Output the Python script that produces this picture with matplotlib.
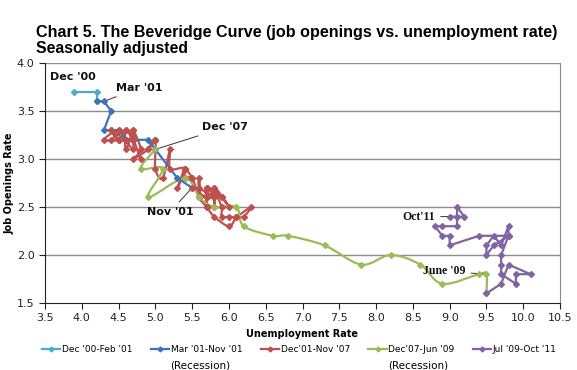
import numpy as np
import matplotlib
matplotlib.use("Agg")
import matplotlib.pyplot as plt
from matplotlib.path import Path
from matplotlib.patches import PathPatch
from matplotlib.lines import Line2D

# ---------------- data ----------------
labels = ["Dec '00-Feb '01", "Mar '01-Nov '01", "Dec'01-Nov '07", "Dec'07-Jun '09", "Jul '09-Oct '11"]
colors = ["#4BACC6", "#3E72B8", "#C0504D", "#9BBB59", "#8064A2"]

cyan_u = [3.9, 4.2, 4.2]
cyan_jo = [3.7, 3.7, 3.6]

blue_u = [4.2, 4.3, 4.4, 4.3, 4.5, 4.6, 4.9, 5.0, 5.3, 5.5]
blue_jo = [3.6, 3.6, 3.5, 3.3, 3.3, 3.2, 3.2, 3.1, 2.8, 2.7]

red_u = [5.5, 5.7,
         5.7, 5.7, 5.7, 5.9, 5.8, 5.8, 5.8, 5.7, 5.7, 5.7, 5.9, 6.0,
         5.8, 5.9, 5.9, 6.0, 6.1, 6.3, 6.2, 6.1, 6.1, 6.0, 5.8, 5.7,
         5.7, 5.6, 5.8, 5.6, 5.6, 5.6, 5.5, 5.4, 5.4, 5.5, 5.4, 5.4,
         5.3, 5.4, 5.2, 5.2, 5.1, 5.0, 5.0, 4.9, 5.0, 5.0, 5.0, 4.9,
         4.7, 4.8, 4.7, 4.7, 4.6, 4.6, 4.7, 4.7, 4.5, 4.4, 4.5, 4.4,
         4.6, 4.5, 4.3, 4.5, 4.4, 4.6, 4.7, 4.6, 4.7, 4.7, 4.8]
red_jo = [2.7, 2.6,
          2.7, 2.5, 2.7, 2.6, 2.7, 2.5, 2.6, 2.7, 2.6, 2.6, 2.6, 2.5,
          2.7, 2.5, 2.4, 2.4, 2.4, 2.5, 2.4, 2.4, 2.4, 2.3, 2.4, 2.5,
          2.5, 2.6, 2.6, 2.7, 2.8, 2.6, 2.8, 2.8, 2.9, 2.8, 2.8, 2.9,
          2.7, 2.9, 2.9, 3.1, 2.8, 2.9, 3.2, 3.1, 3.2, 3.2, 3.2, 3.1,
          3.0, 3.1, 3.3, 3.2, 3.3, 3.1, 3.3, 3.2, 3.2, 3.3, 3.2, 3.3,
          3.2, 3.3, 3.2, 3.2, 3.2, 3.3, 3.2, 3.2, 3.1, 3.2, 3.0]

green_u = [5.0, 4.8, 5.1, 4.9, 5.4, 5.6, 5.8, 6.1, 6.2, 6.6, 6.8, 7.3, 7.8, 8.2, 8.6, 8.9, 9.4, 9.5, 9.5]
green_jo = [3.1, 2.9, 2.9, 2.6, 2.8, 2.6, 2.5, 2.5, 2.3, 2.2, 2.2, 2.1, 1.9, 2.0, 1.9, 1.7, 1.8, 1.8, 1.6]

purple_u = [9.5, 9.7, 9.8, 10.1, 9.9, 9.9, 9.7, 9.7, 9.7, 9.8, 9.6, 9.5, 9.5, 9.6, 9.7, 9.8, 9.8, 9.4,
            9.0, 9.0, 8.9, 8.8, 8.9, 9.1, 9.1, 9.1, 9.2, 9.0]
purple_jo = [1.6, 1.7, 1.9, 1.8, 1.8, 1.7, 1.8, 1.9, 2.0, 2.2, 2.1, 2.0, 2.1, 2.2, 2.1, 2.3, 2.2, 2.2,
             2.1, 2.2, 2.2, 2.3, 2.3, 2.3, 2.4, 2.5, 2.4, 2.4]

x_ticks = [3.5, 4.0, 4.5, 5.0, 5.5, 6.0, 6.5, 7.0, 7.5, 8.0, 8.5, 9.0, 9.5, 10.0, 10.5]
y_ticks = [1.5, 2.0, 2.5, 3.0, 3.5, 4.0]

# ---------------- helpers ----------------
def smooth_path(xs, ys, t=1/6):
    pts = np.column_stack([xs, ys]).astype(float)
    verts = [pts[0]]
    codes = [Path.MOVETO]
    n = len(pts)
    for i in range(n - 1):
        p0 = pts[i - 1] if i > 0 else pts[i]
        p1 = pts[i]
        p2 = pts[i + 1]
        p3 = pts[i + 2] if i + 2 < n else pts[i + 1]
        c1 = p1 + (p2 - p0) * t
        c2 = p2 - (p3 - p1) * t
        verts += [c1, c2, p2]
        codes += [Path.CURVE4] * 3
    return Path(verts, codes)

# ---------------- figure ----------------
fig = plt.figure(figsize=(5.77, 3.70), dpi=100)
ax = fig.add_axes([45/577, 1 - 303/370, 515/577, 240/370])

series = [(cyan_u, cyan_jo, False), (blue_u, blue_jo, False), (red_u, red_jo, True),
          (green_u, green_jo, True), (purple_u, purple_jo, False)]
lw = 1.6
ms = 3
for (xs, ys, smooth), c in zip(series, colors):
    if smooth:
        ax.add_patch(PathPatch(smooth_path(xs, ys), fill=False, edgecolor=c, lw=lw, zorder=3))
        ax.plot(xs, ys, linestyle="none", marker="D", ms=ms, color=c, zorder=4)
    else:
        ax.plot(xs, ys, color=c, lw=lw, marker="D", ms=ms, zorder=4)

ax.set_xlim(3.5, 10.5)
ax.set_ylim(1.5, 4.0)
ax.set_xticks(x_ticks)
ax.set_yticks(y_ticks)
ax.set_xticklabels([f"{v:.1f}" for v in x_ticks])
ax.set_yticklabels([f"{v:.1f}" for v in y_ticks])
ax.tick_params(labelsize=8, length=4, width=0.8, colors="#222222", direction="out")
for y in y_ticks[1:]:
    ax.axhline(y, color="#8c8c8c", lw=1.0, zorder=1)
ax.spines["top"].set_visible(False)
ax.spines["right"].set_color("#8c8c8c")
ax.spines["left"].set_color("#222222")
ax.spines["bottom"].set_color("#222222")

ax.set_xlabel("Unemployment Rate", fontsize=7, fontweight="bold", labelpad=4)
ax.set_ylabel("Job Openings Rate", fontsize=7, fontweight="bold")
ax.yaxis.set_label_coords(-30/515, 0.5)

# annotations
bold = dict(fontsize=8, fontweight="bold", color="#111111")
ax.annotate("Dec '00", xy=(3.88, 3.85), ha="center", va="center", **bold)
ax.annotate("Mar '01", xy=(4.3, 3.6), xytext=(4.78, 3.74), ha="center", va="center",
            arrowprops=dict(arrowstyle="-", color="#333333", lw=0.7, shrinkA=2, shrinkB=0), **bold)
ax.annotate("Dec '07", xy=(5.0, 3.1), xytext=(5.95, 3.33), ha="center", va="center",
            arrowprops=dict(arrowstyle="-", color="#333333", lw=0.7, shrinkA=2, shrinkB=0), **bold)
ax.annotate("Nov '01", xy=(5.5, 2.7), xytext=(5.2, 2.45), ha="center", va="center",
            arrowprops=dict(arrowstyle="-", color="#333333", lw=0.7, shrinkA=2, shrinkB=0), **bold)
serif = dict(fontsize=8.5, fontweight="bold", color="#111111", family="Liberation Serif")
ax.annotate("Oct'11", xy=(9.0, 2.4), xytext=(8.58, 2.4), ha="center", va="center",
            arrowprops=dict(arrowstyle="-", color="#333333", lw=0.7, shrinkA=2, shrinkB=0), **serif)
ax.annotate("June '09", xy=(9.5, 1.8), xytext=(8.93, 1.83), ha="center", va="center",
            arrowprops=dict(arrowstyle="-", color="#333333", lw=0.7, shrinkA=2, shrinkB=0), **serif)

# titles
fig.text(36/577, 1 - 32/370, "Chart 5. The Beveridge Curve (job openings vs. unemployment rate)",
         fontsize=11.6, fontweight="bold", ha="left", va="center", family="Liberation Sans")
fig.text(36/577, 1 - 49/370, "Seasonally adjusted", fontsize=11.3, fontweight="bold", ha="left",
         va="center", family="Liberation Sans")

# legend
handles = [Line2D([], [], color=c, lw=lw, marker="D", ms=2.5) for c in colors]
leg = fig.legend(handles, labels, loc="center left", bbox_to_anchor=(42/577, 1 - 350/370), ncol=5,
                 frameon=False, fontsize=6.5, handlelength=2.0, handletextpad=0.2,
                 columnspacing=2.05, borderaxespad=0, borderpad=0)
fig.text(200/577, 1 - 365/370, "(Recession)", fontsize=7.5, ha="center", va="center")
fig.text(418/577, 1 - 365/370, "(Recession)", fontsize=7.5, ha="center", va="center")

fig.savefig("out.png", dpi=100)
